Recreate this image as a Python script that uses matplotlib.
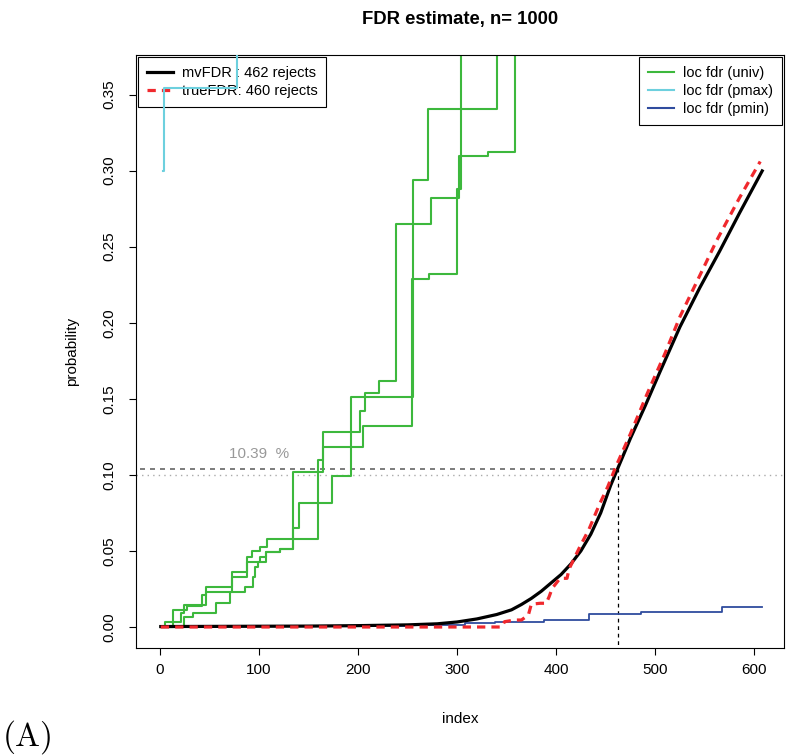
import numpy as np
import matplotlib
matplotlib.use("Agg")
import matplotlib.pyplot as plt
from matplotlib.lines import Line2D

plt.rcParams['font.family'] = ['Liberation Sans', 'DejaVu Sans']
plt.rcParams['mathtext.fontset'] = 'cm'

# mvFDR (black solid)
mv_x = [1, 50, 100, 150, 200, 250, 280, 300, 320, 340, 355, 365, 375, 385, 395, 405, 415,
        425, 435, 445, 455, 462, 475, 490, 505, 525, 545, 565, 585, 608]
mv_y = [0.0003, 0.0004, 0.0005, 0.0006, 0.0009, 0.0014, 0.0021, 0.0033, 0.0053, 0.0082, 0.0113,
        0.0148, 0.0188, 0.0235, 0.0290, 0.0345, 0.0415, 0.0500, 0.0610, 0.0750, 0.0930, 0.1039,
        0.1240, 0.1455, 0.1680, 0.1973, 0.2230, 0.2470, 0.2720, 0.2998]

# trueFDR (red dashed)
tr_x = [1, 345, 348, 358, 365, 372, 375, 384, 390, 393, 396, 404, 411, 413, 424, 433, 444,
        452, 460, 475, 492, 510, 525, 545, 562, 585, 606]
tr_y = [0, 0, 0.0035, 0.0046, 0.0046, 0.0079, 0.0150, 0.0156, 0.0156, 0.020, 0.0254, 0.032,
        0.032, 0.038, 0.0528, 0.064, 0.081, 0.092, 0.105, 0.127, 0.1535, 0.180, 0.204, 0.231,
        0.254, 0.282, 0.306]

# loc fdr (univ), three step curves
u1_x = [1, 13, 27, 43, 47, 73, 88, 93, 101, 108, 160, 165, 202, 207, 221, 238, 274, 302, 331, 359]
u1_y = [0.0002, 0.0112, 0.0140, 0.0210, 0.0261, 0.0359, 0.0462, 0.0499, 0.0524, 0.0576, 0.1097,
        0.1283, 0.1419, 0.1535, 0.1616, 0.2646, 0.2823, 0.3095, 0.3123, 0.45]
u2_x = [1, 5, 21, 24, 47, 73, 88, 101, 107, 121, 134, 165, 205, 255, 272, 300, 304]
u2_y = [0.0002, 0.0035, 0.0090, 0.0146, 0.0232, 0.0331, 0.0429, 0.0462, 0.0495, 0.0510, 0.1020,
        0.1185, 0.1321, 0.2286, 0.2319, 0.2882, 0.45]
u3_x = [1, 24, 34, 57, 71, 86, 94, 96, 99, 107, 121, 134, 141, 174, 193, 256, 271, 340]
u3_y = [0.0002, 0.0068, 0.0090, 0.0156, 0.0232, 0.0265, 0.0331, 0.0396, 0.0429, 0.0495, 0.0510,
        0.0648, 0.0817, 0.0992, 0.1513, 0.2937, 0.3408, 0.45]

# loc fdr (pmax)
px_x = [3, 4, 78, 79]
px_y = [0.30, 0.354, 0.42, 0.5]

# loc fdr (pmin)
pn_x = [1, 60, 150, 250, 308, 338, 388, 433, 486, 520, 567, 608]
pn_y = [0.0002, 0.0004, 0.0007, 0.0013, 0.0024, 0.0035, 0.0046, 0.0083, 0.0096, 0.0101, 0.0134, 0.0134]

n_rej = 462
fdr_at = 0.1039
alpha = 0.10

green = '#3db83d'
cyan = '#6dd0de'
blue = '#2f4c9e'
red = '#f0282d'

fig = plt.figure(figsize=(7.92, 7.56), dpi=100)
ax = fig.add_axes([136/792, 1-648/756, 648/792, 593/756])

ax.axhline(alpha, color='#aaaaaa', lw=1.0, ls=(0, (1, 3)), zorder=1)
ax.plot([-30, n_rej], [fdr_at, fdr_at], color='#666666', lw=1.2, ls=(0, (3, 3)), zorder=1)
ax.plot([n_rej, n_rej], [-1, fdr_at], color='black', lw=0.9, ls=(0, (3, 3)), zorder=1)
ax.text(100, 0.1135, '10.39  %', color='#999999', fontsize=11, ha='center', va='center')

for xs, ys in [(u1_x, u1_y), (u2_x, u2_y), (u3_x, u3_y)]:
    ax.plot(xs, ys, drawstyle='steps-post', color=green, lw=1.5, zorder=2)
ax.plot(pn_x, pn_y, drawstyle='steps-post', color=blue, lw=1.3, zorder=2)
ax.plot(mv_x, mv_y, color='black', lw=2.3, zorder=3)
ax.plot(tr_x, tr_y, color=red, lw=2.3, dashes=(2.6, 1.9), zorder=4)
ax.plot(px_x, px_y, drawstyle='steps-post', color=cyan, lw=1.5, zorder=7)

ax.set_xlim(-24, 630)
ax.set_ylim(-0.0138, 0.376)
ax.set_xticks([0, 100, 200, 300, 400, 500, 600])
ax.set_yticks([0.00, 0.05, 0.10, 0.15, 0.20, 0.25, 0.30, 0.35])
ax.set_yticklabels(['0.00', '0.05', '0.10', '0.15', '0.20', '0.25', '0.30', '0.35'],
                   rotation=90, va='center')
ax.tick_params(direction='out', length=5, width=0.8, labelsize=11, pad=6)
ax.tick_params(axis='y', pad=9)
for s in ax.spines.values():
    s.set_linewidth(0.8)

ax.set_xlabel('index', fontsize=11, labelpad=25)
ax.set_ylabel('probability', fontsize=11, labelpad=17)
ax.set_title('FDR estimate, n= 1000', fontsize=13.3, fontweight='bold', pad=22)

h1 = [Line2D([], [], color='black', lw=2.3),
      Line2D([], [], color=red, lw=2.3, dashes=(2.6, 1.9))]
leg1 = ax.legend(h1, ['mvFDR : 462 rejects', 'trueFDR: 460 rejects'], loc='upper left',
                 fontsize=10.5, frameon=True, fancybox=False, edgecolor='black',
                 borderaxespad=0.15, handlelength=1.8, handletextpad=0.6, labelspacing=0.28,
                 borderpad=0.6, framealpha=1)
leg1.get_frame().set_linewidth(0.8)
leg1.set_zorder(5)
ax.add_artist(leg1)

h2 = [Line2D([], [], color=green, lw=1.5),
      Line2D([], [], color=cyan, lw=1.5),
      Line2D([], [], color=blue, lw=1.5)]
leg2 = ax.legend(h2, ['loc fdr (univ)', 'loc fdr (pmax)', 'loc fdr (pmin)'], loc='upper right',
                 fontsize=10.5, frameon=True, fancybox=False, edgecolor='black',
                 borderaxespad=0.15, handlelength=1.8, handletextpad=0.6, labelspacing=0.28,
                 borderpad=0.6, framealpha=1)
leg2.get_frame().set_linewidth(0.8)

fig.text(0.003, 0.0, r'$\mathrm{(A)}$', fontsize=24, ha='left', va='bottom')

plt.savefig('out.png', dpi=100)
